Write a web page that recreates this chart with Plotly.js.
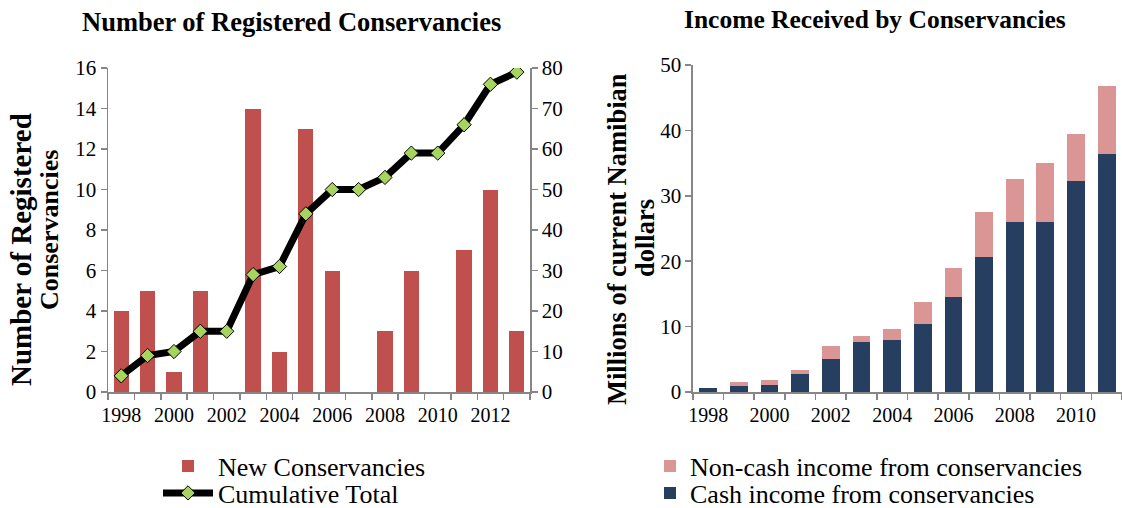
<!DOCTYPE html>
<html>
<head>
<meta charset="utf-8">
<script src="https://cdn.plot.ly/plotly-3.0.1.min.js"></script>
<style>html,body{margin:0;padding:0;background:#fff}#chart{width:1122px;height:508px}</style>
</head>
<body>
<div id="chart"></div>
<script>
// Left chart data
const regYears = [1998,1999,2000,2001,2002,2003,2004,2005,2006,2007,2008,2009,2010,2011,2012,2013];
const newConservancies = [4,5,1,5,0,14,2,13,6,0,3,6,0,7,10,3];
const cumulativeTotal = [4,9,10,15,15,29,31,44,50,50,53,59,59,66,76,79];
// Right chart data (millions of current Namibian dollars)
const incomeYears = [1998,1999,2000,2001,2002,2003,2004,2005,2006,2007,2008,2009,2010,2011];
const cashIncome = [0.6,0.9,1.0,2.7,5.0,7.6,7.9,10.4,14.5,20.6,26.0,26.0,32.3,36.4];
const nonCashIncome = [0.0,0.6,0.9,0.6,2.1,1.0,1.7,3.3,4.5,7.0,6.5,9.0,7.1,10.4];
const leftTickYears = [1998,2000,2002,2004,2006,2008,2010,2012];
const rightTickYears = [1998,2000,2002,2004,2006,2008,2010];

const FONT = 'Liberation Serif, Times New Roman, serif';
const AX = '#868686';

const traces = [
  {type:'bar', x:regYears, y:newConservancies, name:'New Conservancies', showlegend:true,
   marker:{color:'#C0504D'}, xaxis:'x', yaxis:'y', legend:'legend'},
  {type:'scatter', mode:'lines+markers', x:regYears, y:cumulativeTotal, name:'Cumulative Total', showlegend:true,
   line:{color:'#000', width:7}, marker:{symbol:'diamond', size:11, color:'#A6D45E', line:{color:'#000', width:1}},
   xaxis:'x', yaxis:'y2', legend:'legend3'},
  {type:'bar', x:incomeYears, y:cashIncome, name:'Cash income from conservancies', showlegend:true,
   marker:{color:'#263F60'}, xaxis:'x3', yaxis:'y3', legend:'legend4'},
  {type:'bar', x:incomeYears, y:nonCashIncome, name:'Non-cash income from conservancies', showlegend:true,
   marker:{color:'#D99694'}, xaxis:'x3', yaxis:'y3', legend:'legend2'}
];

function xax(domain, range, ticks, anchor){
  return {domain:domain, range:range, anchor:anchor, tickvals:ticks, ticktext:ticks.map(String),
    ticks:'', showline:true, linecolor:AX, linewidth:1.5, showgrid:false, zeroline:false,
    ticklabelstandoff:4,
    tickfont:{family:FONT, size:20, color:'#000'},
    minor:{tick0:1997.5, dtick:1, ticks:'outside', ticklen:6, tickcolor:AX, tickwidth:1.5, showgrid:false}};
}
function yax(extra){
  return Object.assign({showline:true, linecolor:AX, linewidth:1.5, ticks:'outside', ticklen:6,
    tickcolor:AX, tickwidth:1.5, showgrid:false, zeroline:false,
    tickfont:{family:FONT, size:21, color:'#000'}}, extra);
}
function leg(xpx, ypx, w){
  return {x:xpx/1122, y:1-ypx/508, xanchor:'left', yanchor:'middle', bgcolor:'rgba(0,0,0,0)',
    font:{family:FONT, size:26, color:'#000'}, itemwidth:w, tracegroupgap:0, visible:true};
}
function ann(text, xpx, ypx, size, angle){
  return {text:text, xref:'paper', yref:'paper', x:xpx/1122, y:1-ypx/508, xanchor:'center', yanchor:'middle',
    textangle:angle||0, showarrow:false, font:{family:FONT, size:size, color:'#000'}};
}

const layout = {
  width:1122, height:508, margin:{l:0,r:0,t:0,b:0,autoexpand:false},
  paper_bgcolor:'#fff', plot_bgcolor:'rgba(0,0,0,0)',
  showlegend:true,
  barmode:'stack', bargap:0.42,
  font:{family:FONT, color:'#000'},
  xaxis: xax([0.0963,0.4724],[1997.5,2013.5],leftTickYears,'y'),
  yaxis: yax({domain:[0.2283,0.866], range:[0,16], dtick:2, anchor:'x'}),
  yaxis2: yax({domain:[0.2283,0.866], range:[0,80], dtick:10, overlaying:'y', side:'right', anchor:'x'}),
  xaxis3: xax([0.6176,1.0],[1997.5,2011.5],rightTickYears,'y3'),
  yaxis3: yax({domain:[0.2283,0.872], range:[0,50], dtick:10, anchor:'x3'}),
  legend: leg(158, 466, 50),
  legend3: leg(158, 493, 50),
  legend2: leg(650, 466, 30),
  legend4: leg(650, 493, 30),
  annotations:[
    ann('<b>Number of Registered Conservancies</b>', 291, 22, 26.5),
    ann('<b>Income Received by Conservancies</b>', 875, 19, 25.5),
    ann('<b>Number of Registered</b>', 21, 250, 29, -90),
    ann('<b>Conservancies</b>', 49, 230, 26, -90),
    ann('<b>Millions of current Namibian</b>', 617, 239, 26.5, -90),
    ann('<b>dollars</b>', 645, 238, 26.5, -90)
  ]
};

Plotly.newPlot('chart', traces, layout, {displayModeBar:false, staticPlot:true});
</script>
</body>
</html>
